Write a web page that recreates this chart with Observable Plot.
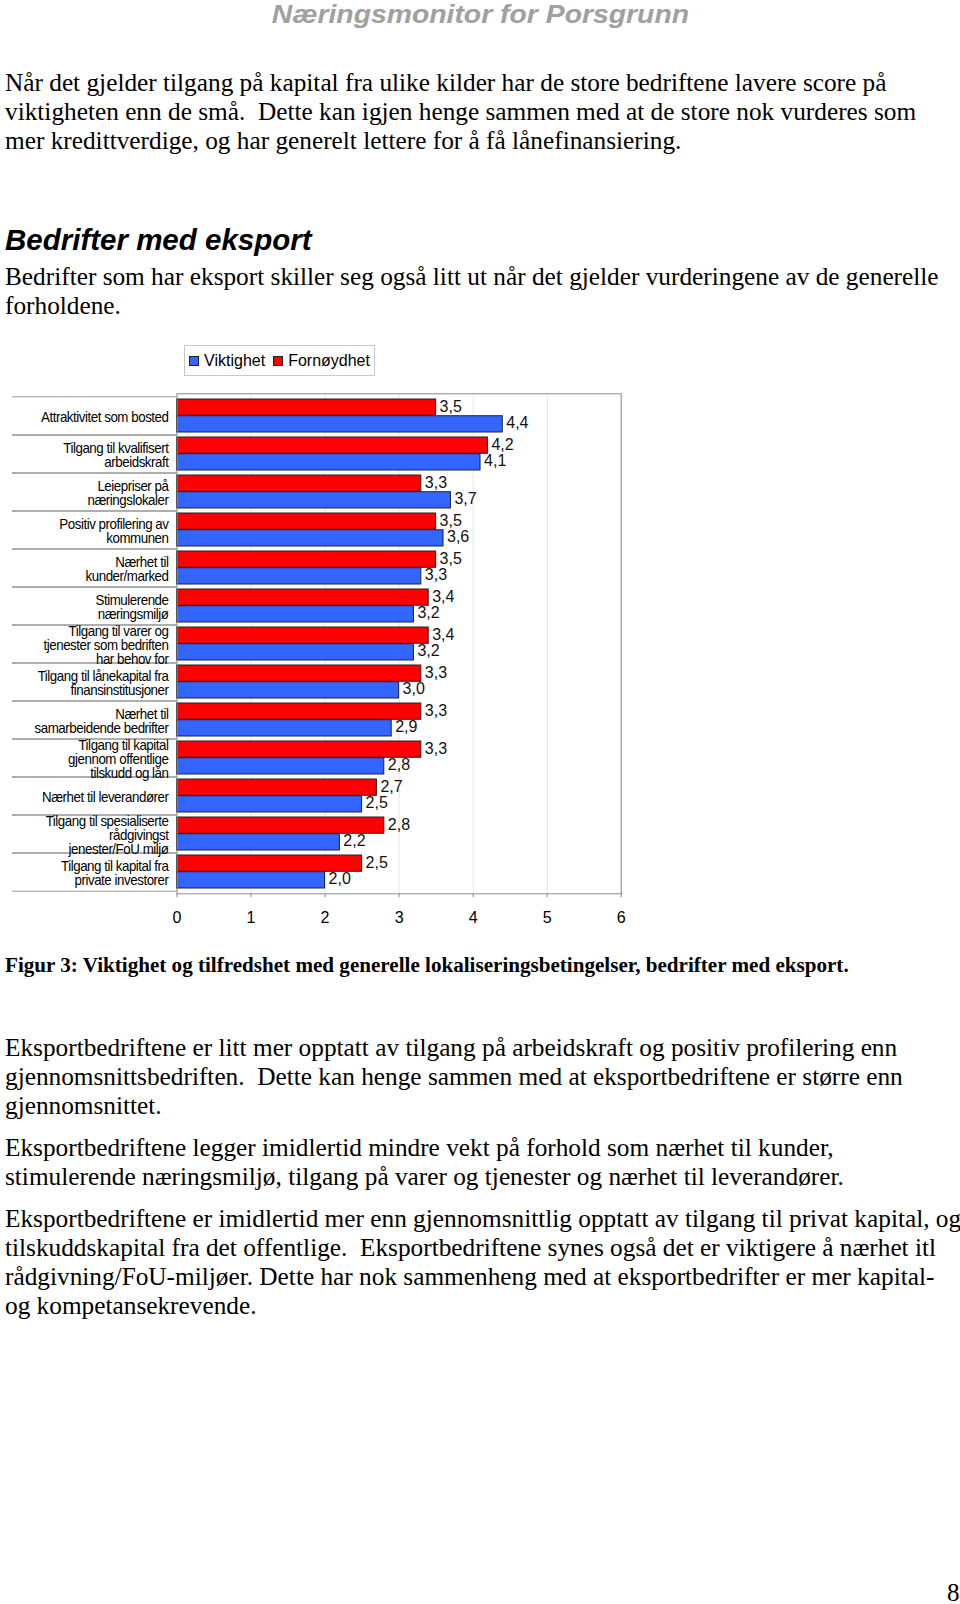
<!DOCTYPE html>
<html><head><meta charset="utf-8">
<script src="https://cdn.jsdelivr.net/npm/d3@7"></script>
<script src="https://cdn.jsdelivr.net/npm/@observablehq/plot@0.6"></script>
<style>
html,body{margin:0;padding:0;background:#fff;}
body{width:960px;height:1604px;position:relative;overflow:hidden;font-family:"Liberation Serif","Times New Roman",serif;color:#000;}
.p{position:absolute;left:5px;white-space:pre;font-size:25.3px;line-height:29px;}
.hdr{position:absolute;left:0;width:960px;top:1px;text-align:center;font-family:"Liberation Sans",Arial,sans-serif;font-weight:bold;font-style:italic;font-size:26px;line-height:26px;color:#a0a0a0;}
.hdr span{display:inline-block;transform:scaleX(1.09);}
.h2{position:absolute;left:5px;top:225px;font-family:"Liberation Sans",Arial,sans-serif;font-weight:bold;font-style:italic;font-size:29.5px;line-height:29px;white-space:pre;}
.cap{position:absolute;left:5px;top:955px;font-weight:bold;font-size:21.1px;line-height:21px;white-space:pre;}
.legend{position:absolute;left:184px;top:345px;width:189px;height:29px;border:1px solid #c8c8c8;font-family:"Liberation Sans",Arial,sans-serif;font-size:16px;display:flex;align-items:center;justify-content:center;gap:8px;}
.legend .it{display:flex;align-items:center;gap:5px;}
.legend .sw{width:8px;height:8px;border:1px solid #222;}
#chart{position:absolute;left:0;top:380px;}
.pg{position:absolute;left:947px;top:1580px;font-size:25px;line-height:25px;}
</style></head>
<body>
<div class="hdr"><span>Næringsmonitor for Porsgrunn</span></div>
<div class="p" style="top:68px">Når det gjelder tilgang på kapital fra ulike kilder har de store bedriftene lavere score på
viktigheten enn de små.  Dette kan igjen henge sammen med at de store nok vurderes som
mer kredittverdige, og har generelt lettere for å få lånefinansiering.</div>
<div class="h2">Bedrifter med eksport</div>
<div class="p" style="top:262px">Bedrifter som har eksport skiller seg også litt ut når det gjelder vurderingene av de generelle
forholdene.</div>
<div class="legend" id="legend"></div>
<div id="chart"></div>
<div class="cap">Figur 3: Viktighet og tilfredshet med generelle lokaliseringsbetingelser, bedrifter med eksport.</div>
<div class="p" style="top:1033px">Eksportbedriftene er litt mer opptatt av tilgang på arbeidskraft og positiv profilering enn
gjennomsnittsbedriften.  Dette kan henge sammen med at eksportbedriftene er større enn
gjennomsnittet.</div>
<div class="p" style="top:1133px">Eksportbedriftene legger imidlertid mindre vekt på forhold som nærhet til kunder,
stimulerende næringsmiljø, tilgang på varer og tjenester og nærhet til leverandører.</div>
<div class="p" style="top:1204px">Eksportbedriftene er imidlertid mer enn gjennomsnittlig opptatt av tilgang til privat kapital, og
tilskuddskapital fra det offentlige.  Eksportbedriftene synes også det er viktigere å nærhet itl
rådgivning/FoU-miljøer. Dette har nok sammenheng med at eksportbedrifter er mer kapital-
og kompetansekrevende.</div>
<div class="pg">8</div>
<script>
// ---- data ----
const categories = [
  "Attraktivitet som bosted",
  "Tilgang til kvalifisert\narbeidskraft",
  "Leiepriser på\nnæringslokaler",
  "Positiv profilering av\nkommunen",
  "Nærhet til\nkunder/marked",
  "Stimulerende\nnæringsmiljø",
  "Tilgang til varer og\ntjenester som bedriften\nhar behov for",
  "Tilgang til lånekapital fra\nfinansinstitusjoner",
  "Nærhet til\nsamarbeidende bedrifter",
  "Tilgang til kapital\ngjennom offentlige\ntilskudd og lån",
  "Nærhet til leverandører",
  "Tilgang til spesialiserte\nrådgivingst\njenester/FoU miljø",
  "Tilgang til kapital fra\nprivate investorer"
];
const viktighet  = [4.4, 4.1, 3.7, 3.6, 3.3, 3.2, 3.2, 3.0, 2.9, 2.8, 2.5, 2.2, 2.0];
const fornoydhet = [3.5, 4.2, 3.3, 3.5, 3.5, 3.4, 3.4, 3.3, 3.3, 3.3, 2.7, 2.8, 2.5];
const seriesNames = ["Viktighet", "Fornøydhet"];
const seriesColors = ["#3366ff", "#ff0000"];
const xTicks = [0, 1, 2, 3, 4, 5, 6];

// ---- legend ----
const leg = document.getElementById("legend");
seriesNames.forEach((s, i) => {
  const it = document.createElement("div"); it.className = "it";
  const sw = document.createElement("div"); sw.className = "sw"; sw.style.background = seriesColors[i];
  const t = document.createElement("span"); t.textContent = s;
  it.appendChild(sw); it.appendChild(t); leg.appendChild(it);
});

// ---- chart ----
const rows = categories.map((c, i) => ({cat: c, v: viktighet[i], f: fornoydhet[i]}));
const fmt = d3.formatLocale({decimal: ",", thousands: " ", grouping: [3], currency: ["", ""]}).format(".1f");

const W = 640, H = 555, mT = 13.3, mB = 41.7, mL = 176.5, mR = 19.3;
const padIn = 0.13, padOut = 0.065;
const step = (H - mT - mB) / (categories.length - padIn + 2 * padOut);
const bw = step * (1 - padIn);
const half = bw / 2;

const chart = Plot.plot({
  width: W, height: H,
  marginTop: mT, marginBottom: mB, marginLeft: mL, marginRight: mR,
  style: {fontFamily: "'Liberation Sans', Arial, sans-serif", fontSize: "16px", color: "#000", background: "#fff"},
  x: {domain: [0, 6]},
  y: {domain: categories, paddingInner: padIn, paddingOuter: padOut, label: null},
  marks: [
    Plot.gridX(xTicks, {stroke: "#000", strokeOpacity: 0.1}),
    Plot.barX(rows, {x: "f", y: "cat", fill: seriesColors[1], stroke: "#222", strokeWidth: 1, insetBottom: half}),
    Plot.barX(rows, {x: "v", y: "cat", fill: seriesColors[0], stroke: "#222", strokeWidth: 1, insetTop: half}),
    Plot.text(rows, {x: "f", y: "cat", text: d => fmt(d.f), dx: 3.5, dy: -half / 2 - 1, textAnchor: "start", fontSize: 16, fill: "#111"}),
    Plot.text(rows, {x: "v", y: "cat", text: d => fmt(d.v), dx: 3.5, dy: half / 2 - 1, textAnchor: "start", fontSize: 16, fill: "#111"}),
    Plot.frame({stroke: "#8c8c8c"}),
    Plot.axisY({tickSize: mL - 12, tickFormat: () => "", stroke: "#9a9a9a", dy: -step / 2, label: null}),
    Plot.axisY({tickSize: mL - 12, tickFormat: () => "", stroke: "#9a9a9a", dy: step / 2, label: null}),
    Plot.axisY({tickSize: 0, tickPadding: 8.5, fontSize: 14.5, lineHeight: 0.95, tickFormat: d => d, dy: 1.5, label: null}),
    Plot.axisX(xTicks, {tickSize: 4, tickPadding: 14, stroke: "#8c8c8c", fontSize: 16, tickFormat: d => String(d), label: null})
  ]
});
document.getElementById("chart").appendChild(chart);

// condense the category labels horizontally, like the original
chart.querySelectorAll('g[aria-label="y-axis tick label"] text').forEach(t => {
  t.style.letterSpacing = "-0.5px";
  const tr = t.getAttribute("transform");
  if (tr) t.setAttribute("transform", tr + " scale(0.92,1)");
});
</script>
</body></html>
